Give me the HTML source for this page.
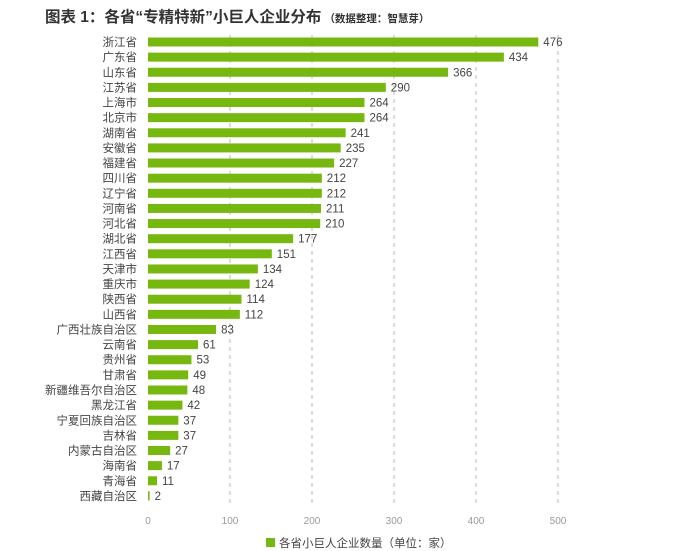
<!DOCTYPE html>
<html><head><meta charset="utf-8"><style>
body{margin:0;background:#fff;}
svg{display:block;font-family:"Liberation Sans","Noto Sans CJK SC",sans-serif;}
</style></head><body>
<svg width="692" height="551" xmlns="http://www.w3.org/2000/svg">
<text x="45" y="22" font-size="15.5" font-weight="bold" fill="#333">图表 1：各省“专精特新”小巨人企业分布<tspan font-size="10.5" dx="3">（数据整理：智慧芽）</tspan></text>
<g stroke="#bbb" stroke-dasharray="4,4" stroke-width="1">
<line x1="230" y1="35" x2="230" y2="505"/><line x1="312" y1="35" x2="312" y2="505"/><line x1="394" y1="35" x2="394" y2="505"/><line x1="476" y1="35" x2="476" y2="505"/><line x1="558" y1="35" x2="558" y2="505"/>
</g>
<g font-size="11.5" fill="#444">
<g transform="translate(0,42)"><rect x="148" y="-4.5" width="390.32" height="9" fill="#76b80f"/><text x="137" y="4" text-anchor="end">浙江省</text><text x="543.3" y="4">476</text></g>
<g transform="translate(0,57.13)"><rect x="148" y="-4.5" width="355.88" height="9" fill="#76b80f"/><text x="137" y="4" text-anchor="end">广东省</text><text x="508.9" y="4">434</text></g>
<g transform="translate(0,72.26)"><rect x="148" y="-4.5" width="300.12" height="9" fill="#76b80f"/><text x="137" y="4" text-anchor="end">山东省</text><text x="453.1" y="4">366</text></g>
<g transform="translate(0,87.39)"><rect x="148" y="-4.5" width="237.8" height="9" fill="#76b80f"/><text x="137" y="4" text-anchor="end">江苏省</text><text x="390.8" y="4">290</text></g>
<g transform="translate(0,102.52)"><rect x="148" y="-4.5" width="216.48" height="9" fill="#76b80f"/><text x="137" y="4" text-anchor="end">上海市</text><text x="369.5" y="4">264</text></g>
<g transform="translate(0,117.65)"><rect x="148" y="-4.5" width="216.48" height="9" fill="#76b80f"/><text x="137" y="4" text-anchor="end">北京市</text><text x="369.5" y="4">264</text></g>
<g transform="translate(0,132.78)"><rect x="148" y="-4.5" width="197.62" height="9" fill="#76b80f"/><text x="137" y="4" text-anchor="end">湖南省</text><text x="350.6" y="4">241</text></g>
<g transform="translate(0,147.91)"><rect x="148" y="-4.5" width="192.7" height="9" fill="#76b80f"/><text x="137" y="4" text-anchor="end">安徽省</text><text x="345.7" y="4">235</text></g>
<g transform="translate(0,163.04)"><rect x="148" y="-4.5" width="186.14" height="9" fill="#76b80f"/><text x="137" y="4" text-anchor="end">福建省</text><text x="339.1" y="4">227</text></g>
<g transform="translate(0,178.17)"><rect x="148" y="-4.5" width="173.84" height="9" fill="#76b80f"/><text x="137" y="4" text-anchor="end">四川省</text><text x="326.8" y="4">212</text></g>
<g transform="translate(0,193.3)"><rect x="148" y="-4.5" width="173.84" height="9" fill="#76b80f"/><text x="137" y="4" text-anchor="end">辽宁省</text><text x="326.8" y="4">212</text></g>
<g transform="translate(0,208.43)"><rect x="148" y="-4.5" width="173.02" height="9" fill="#76b80f"/><text x="137" y="4" text-anchor="end">河南省</text><text x="326" y="4">211</text></g>
<g transform="translate(0,223.56)"><rect x="148" y="-4.5" width="172.2" height="9" fill="#76b80f"/><text x="137" y="4" text-anchor="end">河北省</text><text x="325.2" y="4">210</text></g>
<g transform="translate(0,238.69)"><rect x="148" y="-4.5" width="145.14" height="9" fill="#76b80f"/><text x="137" y="4" text-anchor="end">湖北省</text><text x="298.1" y="4">177</text></g>
<g transform="translate(0,253.82)"><rect x="148" y="-4.5" width="123.82" height="9" fill="#76b80f"/><text x="137" y="4" text-anchor="end">江西省</text><text x="276.8" y="4">151</text></g>
<g transform="translate(0,268.95)"><rect x="148" y="-4.5" width="109.88" height="9" fill="#76b80f"/><text x="137" y="4" text-anchor="end">天津市</text><text x="262.9" y="4">134</text></g>
<g transform="translate(0,284.08)"><rect x="148" y="-4.5" width="101.68" height="9" fill="#76b80f"/><text x="137" y="4" text-anchor="end">重庆市</text><text x="254.7" y="4">124</text></g>
<g transform="translate(0,299.21)"><rect x="148" y="-4.5" width="93.48" height="9" fill="#76b80f"/><text x="137" y="4" text-anchor="end">陕西省</text><text x="246.5" y="4">114</text></g>
<g transform="translate(0,314.34)"><rect x="148" y="-4.5" width="91.84" height="9" fill="#76b80f"/><text x="137" y="4" text-anchor="end">山西省</text><text x="244.8" y="4">112</text></g>
<g transform="translate(0,329.47)"><rect x="148" y="-4.5" width="68.06" height="9" fill="#76b80f"/><text x="137" y="4" text-anchor="end">广西壮族自治区</text><text x="221.1" y="4">83</text></g>
<g transform="translate(0,344.6)"><rect x="148" y="-4.5" width="50.02" height="9" fill="#76b80f"/><text x="137" y="4" text-anchor="end">云南省</text><text x="203" y="4">61</text></g>
<g transform="translate(0,359.73)"><rect x="148" y="-4.5" width="43.46" height="9" fill="#76b80f"/><text x="137" y="4" text-anchor="end">贵州省</text><text x="196.5" y="4">53</text></g>
<g transform="translate(0,374.86)"><rect x="148" y="-4.5" width="40.18" height="9" fill="#76b80f"/><text x="137" y="4" text-anchor="end">甘肃省</text><text x="193.2" y="4">49</text></g>
<g transform="translate(0,389.99)"><rect x="148" y="-4.5" width="39.36" height="9" fill="#76b80f"/><text x="137" y="4" text-anchor="end">新疆维吾尔自治区</text><text x="192.4" y="4">48</text></g>
<g transform="translate(0,405.12)"><rect x="148" y="-4.5" width="34.44" height="9" fill="#76b80f"/><text x="137" y="4" text-anchor="end">黑龙江省</text><text x="187.4" y="4">42</text></g>
<g transform="translate(0,420.25)"><rect x="148" y="-4.5" width="30.34" height="9" fill="#76b80f"/><text x="137" y="4" text-anchor="end">宁夏回族自治区</text><text x="183.3" y="4">37</text></g>
<g transform="translate(0,435.38)"><rect x="148" y="-4.5" width="30.34" height="9" fill="#76b80f"/><text x="137" y="4" text-anchor="end">吉林省</text><text x="183.3" y="4">37</text></g>
<g transform="translate(0,450.51)"><rect x="148" y="-4.5" width="22.14" height="9" fill="#76b80f"/><text x="137" y="4" text-anchor="end">内蒙古自治区</text><text x="175.1" y="4">27</text></g>
<g transform="translate(0,465.64)"><rect x="148" y="-4.5" width="13.94" height="9" fill="#76b80f"/><text x="137" y="4" text-anchor="end">海南省</text><text x="166.9" y="4">17</text></g>
<g transform="translate(0,480.77)"><rect x="148" y="-4.5" width="9.02" height="9" fill="#76b80f"/><text x="137" y="4" text-anchor="end">青海省</text><text x="162" y="4">11</text></g>
<g transform="translate(0,495.9)"><rect x="148" y="-4.5" width="1.64" height="9" fill="#76b80f"/><text x="137" y="4" text-anchor="end">西藏自治区</text><text x="154.6" y="4">2</text></g>
</g>
<g font-size="10" fill="#999" text-anchor="middle">
<text x="148" y="524">0</text><text x="230" y="524">100</text><text x="312" y="524">200</text><text x="394" y="524">300</text><text x="476" y="524">400</text><text x="558" y="524">500</text>
</g>
<rect x="266" y="538" width="9" height="9" fill="#76b80f"/>
<text x="279" y="547" font-size="11.5" fill="#444">各省小巨人企业数量（单位：家）</text>
</svg>
</body></html>
